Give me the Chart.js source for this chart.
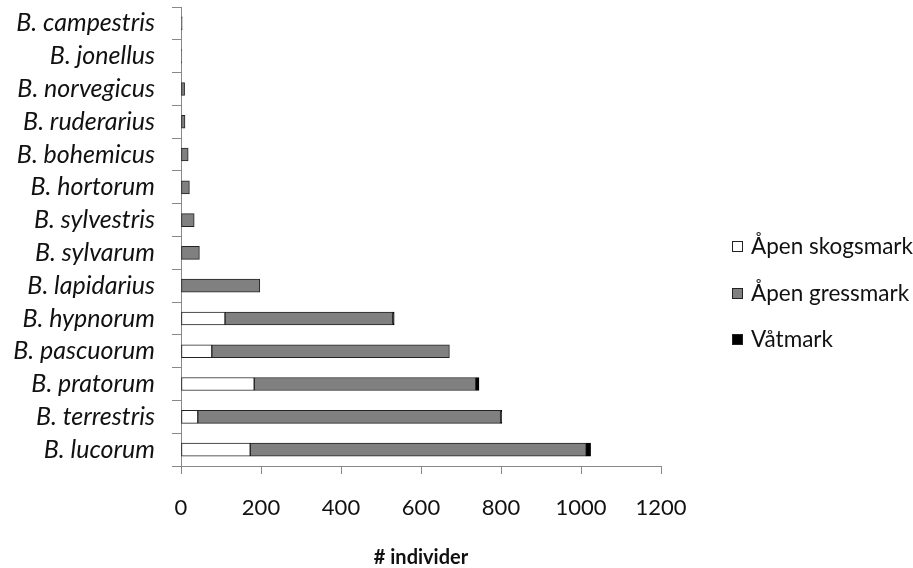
<!DOCTYPE html>
<html>
<head>
<meta charset="utf-8">
<script src="https://cdn.jsdelivr.net/npm/chart.js@4/dist/chart.umd.min.js"></script>
<style>
  html, body { margin: 0; padding: 0; background: #fff; }
  #wrap { width: 913px; height: 568px; position: relative; }
</style>
</head>
<body>
<div id="wrap"><canvas id="c" width="913" height="568"></canvas></div>
<script>
const species = ['B. campestris','B. jonellus','B. norvegicus','B. ruderarius','B. bohemicus','B. hortorum','B. sylvestris','B. sylvarum','B. lapidarius','B. hypnorum','B. pascuorum','B. pratorum','B. terrestris','B. lucorum'];
const seriesNames = ['Åpen skogsmark','Åpen gressmark','Våtmark'];
const skogsmark = [null,null,null,null,null,null,null,null,null,110,77,183,42,173];
const gressmark = [3,2,9,10,18,21,33,46,197,419,594,554,757,840];
const vatmark   = [null,null,null,null,null,null,null,null,null,4,null,8,3,11];
const xTicks = [0,200,400,600,800,1000,1200];

const fills = ['#ffffff','#808080','#000000'];

const legendPlugin = {
  id: 'sideLegend',
  afterDraw(chart) {
    const ctx = chart.ctx;
    ctx.save();
    ctx.font = '22.5px Lato';
    ctx.textBaseline = 'middle';
    ctx.textAlign = 'left';
    const ys = [247, 294, 340];
    chart.data.datasets.forEach((ds, i) => {
      const y = ys[i];
      ctx.fillStyle = ds.backgroundColor;
      ctx.fillRect(732.5, y - 5.5, 10, 10);
      ctx.strokeStyle = '#222';
      ctx.lineWidth = 1;
      ctx.strokeRect(732.5, y - 5.5, 10, 10);
      ctx.fillStyle = '#111';
      ctx.fillText(ds.label, 751, y);
    });
    ctx.restore();
  }
};

Chart.defaults.font.family = 'Lato';
Chart.defaults.color = '#000';

new Chart(document.getElementById('c'), {
  type: 'bar',
  data: {
    labels: species,
    datasets: [
      { label: seriesNames[0], data: skogsmark, backgroundColor: fills[0], borderColor: '#222', borderWidth: 1, borderSkipped: false, barThickness: 13 },
      { label: seriesNames[1], data: gressmark, backgroundColor: fills[1], borderColor: '#222', borderWidth: 1, borderSkipped: false, barThickness: 13 },
      { label: seriesNames[2], data: vatmark, backgroundColor: fills[2], borderColor: '#000', borderWidth: 1, borderSkipped: false, barThickness: 13 }
    ]
  },
  options: {
    indexAxis: 'y',
    responsive: false,
    animation: false,
    layout: { padding: { left: 0, right: 252, top: 7, bottom: 0 } },
    plugins: { legend: { display: false }, tooltip: { enabled: false } },
    scales: {
      x: {
        stacked: true,
        min: 0, max: 1200,
        afterBuildTicks(scale) { scale.ticks = xTicks.map(v => ({ value: v })); },
        afterFit(scale) { scale.height = 102; scale.paddingLeft = 0; scale.paddingRight = 0; },
        grid: { drawOnChartArea: false, drawTicks: true, tickLength: 8, color: '#888' },
        border: { color: '#888', width: 1 },
        ticks: { padding: 21, font: { size: 22 }, color: '#111', autoSkip: false, maxRotation: 0, callback: (v) => String(v) },
        title: { display: true, text: '# individer', font: { size: 20, weight: 'bold', lineHeight: 1 }, padding: { top: 30, bottom: 0 }, color: '#111' }
      },
      y: {
        stacked: true,
        afterFit(scale) { scale.width = 181; scale.paddingTop = 0; scale.paddingBottom = 0; },
        grid: { offset: true, drawOnChartArea: false, drawTicks: true, tickLength: 9, color: '#888' },
        border: { color: '#888', width: 1 },
        ticks: { padding: 17, font: { size: 25, style: 'italic' }, color: '#111', autoSkip: false }
      }
    }
  },
  plugins: [legendPlugin]
});
</script>
</body>
</html>
